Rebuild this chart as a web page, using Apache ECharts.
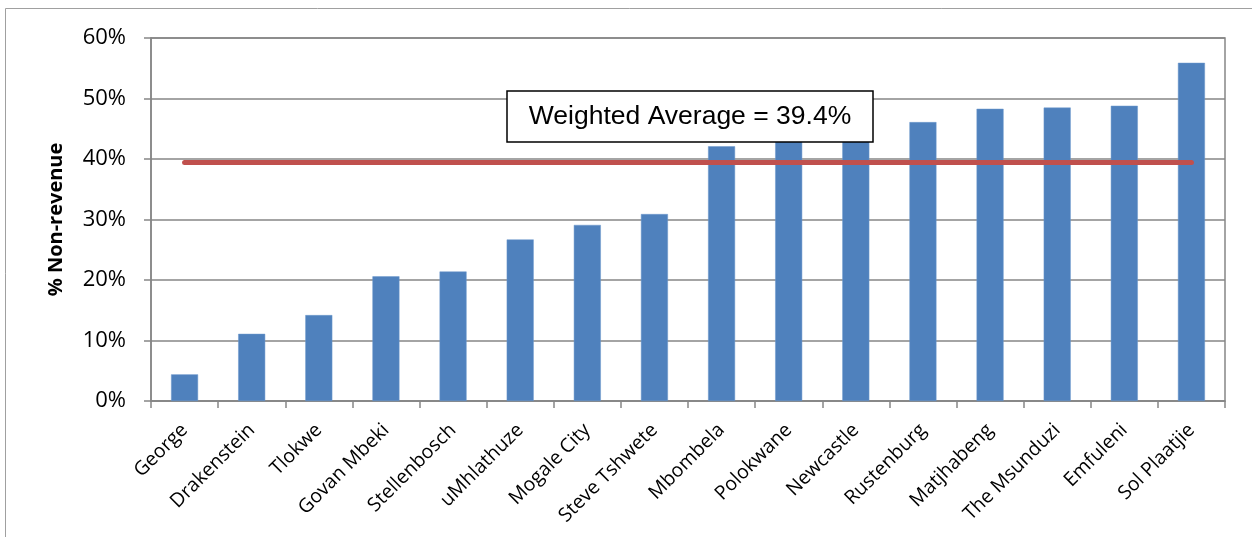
<!DOCTYPE html>
<html>
<head>
<meta charset="utf-8">
<script src="https://cdn.jsdelivr.net/npm/echarts@6/dist/echarts.min.js"></script>
<style>
html,body{margin:0;padding:0;background:#fff;}
#chart{width:1252px;height:537px;}
</style>
</head>
<body>
<div id="chart"></div>
<script>
const categories = ["George","Drakenstein","Tlokwe","Govan Mbeki","Stellenbosch","uMhlathuze","Mogale City","Steve Tshwete","Mbombela","Polokwane","Newcastle","Rustenburg","Matjhabeng","The Msunduzi","Emfuleni","Sol Plaatjie"];
const nonRevenue = [4.4, 11.1, 14.2, 20.6, 21.4, 26.7, 29.1, 30.9, 42.1, 44.5, 45.0, 46.1, 48.3, 48.5, 48.8, 55.9];
const weightedAverage = 39.4;
const yTicks = [0, 10, 20, 30, 40, 50, 60];
const avgLabel = "Weighted Average = " + weightedAverage + "%";

const chart = echarts.init(document.getElementById('chart'), null, {renderer: 'canvas'});
const gray = '#868686';
chart.setOption({
  animation: false,
  backgroundColor: '#ffffff',
  grid: {left: 151, right: 27, top: 38, bottom: 136, show: true, borderColor: gray, borderWidth: 1.5},
  xAxis: {
    type: 'category',
    data: categories,
    axisLine: {lineStyle: {color: gray, width: 1.5}},
    axisTick: {show: true, alignWithLabel: false, length: 7, lineStyle: {color: gray, width: 1.5}},
    axisLabel: {interval: 0, rotate: 45, margin: 26, color: '#000', fontSize: 19.5, fontFamily: 'Open Sans'}
  },
  yAxis: {
    type: 'value',
    min: yTicks[0], max: yTicks[yTicks.length - 1], interval: 10,
    name: '% Non-revenue',
    nameLocation: 'middle',
    nameGap: 85,
    nameTextStyle: {color: '#000', fontSize: 20, fontWeight: 'bold', fontFamily: 'Open Sans'},
    axisLine: {show: true, lineStyle: {color: gray, width: 1.5}},
    axisTick: {show: true, length: 7, lineStyle: {color: gray, width: 1.5}},
    axisLabel: {formatter: '{value}%', margin: 25, color: '#000', fontSize: 22, fontFamily: 'Open Sans'},
    splitLine: {show: true, lineStyle: {color: gray, width: 1.5}}
  },
  series: [{
    type: 'bar',
    data: nonRevenue,
    barWidth: 27,
    itemStyle: {color: '#4F81BD', borderColor: '#6d98cc', borderWidth: 0.5},
    markLine: {
      silent: true,
      symbol: ['none', 'none'],
      label: {show: false},
      lineStyle: {color: '#C0504D', width: 5, type: 'solid', cap: 'round'},
      data: [[{xAxis: categories[0], yAxis: weightedAverage}, {xAxis: categories[categories.length - 1], yAxis: weightedAverage}]]
    }
  }],
  graphic: [
    {type: 'rect', shape: {x: 5.5, y: 8.5, width: 1300, height: 600}, style: {fill: 'none', stroke: '#a0a0a0', lineWidth: 1}, z: 100},
    {type: 'rect', shape: {x: 507, y: 91, width: 366, height: 51}, style: {fill: '#fff', stroke: '#000', lineWidth: 1.5}, z: 100},
    {type: 'text', x: 690, y: 117, style: {text: avgLabel, fill: '#000', font: '26.5px "Liberation Sans", Arial, sans-serif', align: 'center', verticalAlign: 'middle'}, z: 101}
  ]
});
</script>
</body>
</html>
